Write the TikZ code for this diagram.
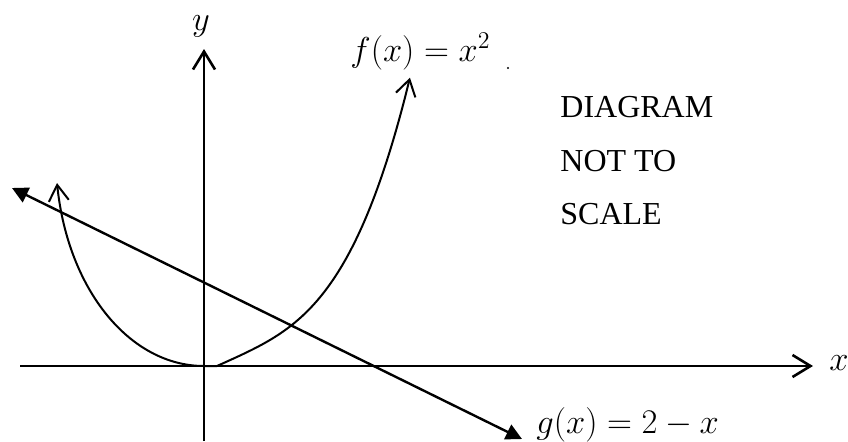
\documentclass[tikz,border=0pt]{standalone}
\usepackage{amsmath}
\usepackage{fontspec}
\newfontfamily\notefont{Liberation Serif}
\usetikzlibrary{arrows.meta}
\tikzset{axis/.style={-{Straight Barb[length=9pt,width=11pt]},line width=1.3pt},
         curve/.style={{Straight Barb[length=8pt,width=10pt]}-{Straight Barb[length=8pt,width=10pt]},line width=1pt},
         gline/.style={{Triangle[length=8pt,width=8pt]}-{Triangle[length=8pt,width=8pt]},line width=1.2pt},
         lab/.style={font=\fontsize{17.5}{20}\selectfont,inner sep=0pt,anchor=base},
         note/.style={font=\notefont\fontsize{16}{20}\selectfont,inner sep=0pt,anchor=base west}}

\begin{document}
\begin{tikzpicture}[x=.5pt,y=-.5pt]
  \useasboundingbox (0,0) rectangle (848,441);
  % axes
  \coordinate (xl) at (20,366);
  \coordinate (xr) at (813,366);
  \coordinate (yb) at (204,441);
  \coordinate (yt) at (204,49);
  \draw[axis] (xl)--(xr);
  \draw[axis] (yb)--(yt);
  \node[lab] (xlab) at (839,370) {$x$};
  \node[lab] (ylab) at (201,30) {$y$};
  % f(x)=x^2, hand drawn
  \coordinate (fl) at (57,183);
  \coordinate (fv) at (204,366);
  \coordinate (fk) at (217,366);
  \draw[curve] (fl) .. controls (68,290) and (130,366) .. (fv) -- (fk)
    -- plot[domain=0.02:1.93,samples=40,smooth] ({217+100*\x},{366-45*\x-20.2*\x^3.5});
  \node[lab,anchor=base west] (flab) at (350,61) {$f(x) = x^2$};
  % g(x)=2-x
  \coordinate (gl) at (12,188);
  \coordinate (gr) at (522,439);
  \draw[gline] (gl)--(gr);
  \node[lab,anchor=base west] (glab) at (536,433) {$g(x) = 2 - x$};
  \fill (508,68) circle (1.2);
  \node[note] (note1) at (560,117) {DIAGRAM};
  \node[note] (note2) at (560,171) {NOT TO};
  \node[note] (note3) at (560,224) {SCALE};
\end{tikzpicture}
\end{document}
